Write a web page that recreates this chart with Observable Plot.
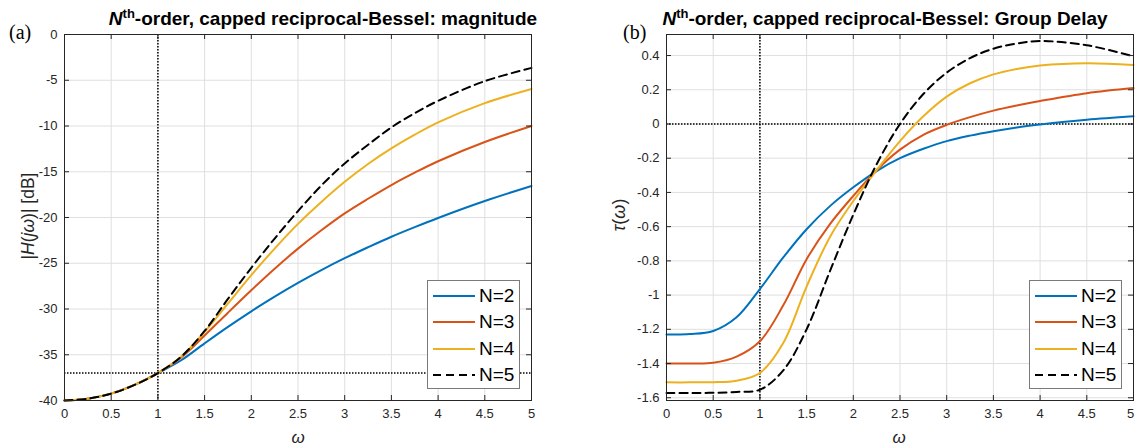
<!DOCTYPE html>
<html>
<head>
<meta charset="utf-8">
<script src="https://cdn.jsdelivr.net/npm/d3@7"></script>
<script src="https://cdn.jsdelivr.net/npm/@observablehq/plot@0.6"></script>
<style>
  html, body { margin: 0; padding: 0; background: #fff; }
  #wrap { position: relative; width: 1135px; height: 447px; overflow: hidden; font-family: "Liberation Sans", Arial, sans-serif; color: #000; }
  .panel { position: absolute; top: 0; }
  .title { position: absolute; top: 8px; font-weight: bold; font-size: 19px; white-space: nowrap; transform: translateX(-50%); line-height: 22px; }
  .title sup { font-size: 13px; vertical-align: 7px; line-height: 0; }
  .tag { position: absolute; font-family: "Liberation Serif", "Times New Roman", serif; font-size: 20px; line-height: 20px; }
  .ylab { position: absolute; white-space: nowrap; transform: translate(-50%, -50%) rotate(-90deg); line-height: 20px; color: #262626; }
  .xlab { position: absolute; font-size: 17px; font-style: italic; transform: translateX(-50%); line-height: 18px; color: #262626; }
  .legend { position: absolute; background: #fff; border: 1px solid #7a7a7a; box-sizing: border-box; }
  .legend .row { position: absolute; left: 0; height: 24px; display: flex; align-items: center; }
  .legend .row svg { display: block; margin-left: 4px; }
  .legend .row span { font-size: 19px; margin-left: 3px; color: #000; }
</style>
</head>
<body>
<div id="wrap"></div>
<script>
// ---------------- data ----------------
const omega = [0, 0.25, 0.5, 0.75, 1, 1.25, 1.5, 1.75, 2, 2.25, 2.5, 2.75, 3, 3.25, 3.5, 3.75, 4, 4.5, 5];

// panel (a): |H(jω)| in dB
const magN2 = [-40, -39.8, -39.25, -38.3, -37, -35.6, -33.75, -31.95, -30.25, -28.65, -27.15, -25.75, -24.45, -23.25, -22.1, -21.05, -20.05, -18.2, -16.55];
const magN3 = [-40, -39.8, -39.25, -38.3, -37, -35.3, -32.9, -30.4, -27.95, -25.6, -23.4, -21.4, -19.55, -17.95, -16.45, -15.1, -13.85, -11.75, -10.0];
const magN4 = [-40, -39.8, -39.25, -38.3, -37, -35.2, -32.5, -29.4, -26.3, -23.4, -20.7, -18.3, -16.1, -14.15, -12.45, -10.95, -9.6, -7.5, -5.95];
const magN5 = [-40, -39.8, -39.25, -38.3, -37, -35.2, -32.4, -28.9, -25.5, -22.3, -19.3, -16.5, -14.1, -12.05, -10.15, -8.6, -7.25, -5.1, -3.65];

// panel (b): group delay τ(ω)
const tauN2 = [-1.23, -1.228, -1.21, -1.13, -0.965, -0.78, -0.615, -0.48, -0.37, -0.275, -0.2, -0.145, -0.1, -0.068, -0.042, -0.02, -0.003, 0.025, 0.045];
const tauN3 = [-1.40, -1.40, -1.396, -1.36, -1.27, -1.06, -0.79, -0.585, -0.42, -0.27, -0.15, -0.063, -0.005, 0.04, 0.078, 0.108, 0.134, 0.18, 0.21];
const tauN4 = [-1.51, -1.51, -1.509, -1.50, -1.455, -1.28, -0.95, -0.66, -0.45, -0.27, -0.1, 0.045, 0.16, 0.238, 0.29, 0.322, 0.342, 0.355, 0.345];
const tauN5 = [-1.572, -1.572, -1.571, -1.566, -1.553, -1.44, -1.2, -0.86, -0.53, -0.235, 0.0, 0.175, 0.3, 0.385, 0.44, 0.47, 0.485, 0.46, 0.395];

const orders = ["N=2", "N=3", "N=4", "N=5"];
const colors = ["#0072BD", "#D95319", "#EDB120", "#000000"];

const xTicks = [0, 0.5, 1, 1.5, 2, 2.5, 3, 3.5, 4, 4.5, 5];
const magTicks = [0, -5, -10, -15, -20, -25, -30, -35, -40];
const tauTicks = [0.4, 0.2, 0, -0.2, -0.4, -0.6, -0.8, -1, -1.2, -1.4, -1.6];

const magDomain = [-40, 0];
const tauDomain = [-1.616, 0.523];
const magRef = -37;   // dotted horizontal reference
const tauRef = 0;
const omegaRef = 1;   // dotted vertical reference

// ---------------- helpers ----------------
function rows(series) {
  return series.flatMap((vals, k) => omega.map((w, i) => ({ w, v: vals[i], n: orders[k] })));
}

const H = 447, MT = 34, MB = 47;

function panel({ data, yDomain, yTicks, width, marginLeft, marginRight, refY }) {
  const ph = H - MT - MB;
  const pw = width - marginLeft - marginRight;
  const axisCol = "#262626";
  const fmt = d => String(d);
  const lastX = xTicks[xTicks.length - 1];
  return Plot.plot({
    width, height: H, marginTop: MT, marginBottom: MB, marginLeft, marginRight,
    style: { fontFamily: "Liberation Sans, Arial, sans-serif", fontSize: "13px", color: axisCol, background: "transparent", overflow: "visible" },
    x: { domain: [0, 5] },
    y: { domain: yDomain },
    color: { domain: orders, range: colors },
    marks: [
      Plot.gridX(xTicks, { stroke: "#dfdfdf", strokeOpacity: 1, strokeWidth: 1 }),
      Plot.gridY(yTicks, { stroke: "#dfdfdf", strokeOpacity: 1, strokeWidth: 1 }),
      Plot.ruleX([omegaRef], { stroke: "#000", strokeWidth: 1.5, strokeDasharray: "1.5,1.5" }),
      Plot.ruleY([refY], { stroke: "#000", strokeWidth: 1.5, strokeDasharray: "1.5,1.5" }),
      Plot.line(data.filter(d => d.n !== "N=5"), { x: "w", y: "v", stroke: "n", z: "n", strokeWidth: 2, curve: "catmull-rom" }),
      Plot.line(data.filter(d => d.n === "N=5"), { x: "w", y: "v", stroke: "#000", strokeWidth: 2, strokeDasharray: "8,5", curve: "catmull-rom" }),
      Plot.frame({ stroke: axisCol, strokeWidth: 1 }),
      Plot.ruleX(xTicks, { stroke: axisCol, insetTop: ph - 5 }),
      Plot.ruleX(xTicks, { stroke: axisCol, insetBottom: ph - 5 }),
      Plot.ruleY(yTicks, { stroke: axisCol, insetLeft: pw - 5 }),
      Plot.ruleY(yTicks, { stroke: axisCol, insetRight: pw - 5 }),
      Plot.axisX(xTicks.slice(0, -1), { tickSize: 0, tickPadding: 8, tickFormat: fmt, label: null, fontSize: 13 }),
      Plot.axisX([lastX], { tickSize: 0, tickPadding: 8, tickFormat: fmt, label: null, fontSize: 13, dx: marginRight < 6 ? -3 : 0 }),
      Plot.axisY(yTicks, { tickSize: 0, tickPadding: 7, tickFormat: fmt, label: null, fontSize: 13 })
    ]
  });
}

function legend(left, top) {
  const box = document.createElement("div");
  box.className = "legend";
  Object.assign(box.style, { left: left + "px", top: top + "px", width: "93px", height: "109px" });
  orders.forEach((name, i) => {
    const row = document.createElement("div");
    row.className = "row";
    row.style.top = (3 + i * 26.3) + "px";
    const dash = name === "N=5" ? 'stroke-dasharray="8,5"' : "";
    row.innerHTML = `<svg width="44" height="6"><line x1="1" y1="3" x2="43" y2="3" stroke="${colors[i]}" stroke-width="2" ${dash}/></svg><span>${name}</span>`;
    box.appendChild(row);
  });
  return box;
}

function add(cls, html, style) {
  const d = document.createElement("div");
  d.className = cls;
  d.innerHTML = html;
  Object.assign(d.style, style);
  wrap.appendChild(d);
  return d;
}

// ---------------- build ----------------
const wrap = document.getElementById("wrap");

const left = panel({ data: rows([magN2, magN3, magN4, magN5]), yDomain: magDomain, yTicks: magTicks, width: 560, marginLeft: 64, marginRight: 29, refY: magRef });
left.classList.add("panel"); left.style.left = "0px";
wrap.appendChild(left);

const right = panel({ data: rows([tauN2, tauN3, tauN4, tauN5]), yDomain: tauDomain, yTicks: tauTicks, width: 575, marginLeft: 106, marginRight: 2, refY: tauRef });
right.classList.add("panel"); right.style.left = "560px";
wrap.appendChild(right);

wrap.appendChild(legend(427, 280));
wrap.appendChild(legend(1029, 280));

add("title", "<i>N</i><sup>th</sup>-order, capped reciprocal-Bessel: magnitude", { left: "323px" });
add("title", "<i>N</i><sup>th</sup>-order, capped reciprocal-Bessel: Group Delay", { left: "885px" });
add("tag", "(a)", { left: "9px", top: "22px" });
add("tag", "(b)", { left: "623px", top: "22px" });
add("ylab", "|<i>H</i>(<i>j</i><i>ω</i>)| [dB]", { left: "28px", top: "216px", fontSize: "17.5px" });
add("ylab", "<i>τ</i>(<i>ω</i>)", { left: "619px", top: "215px", fontSize: "18px" });
add("xlab", "ω", { left: "298px", top: "429px" });
add("xlab", "ω", { left: "899px", top: "429px" });
</script>
</body>
</html>
